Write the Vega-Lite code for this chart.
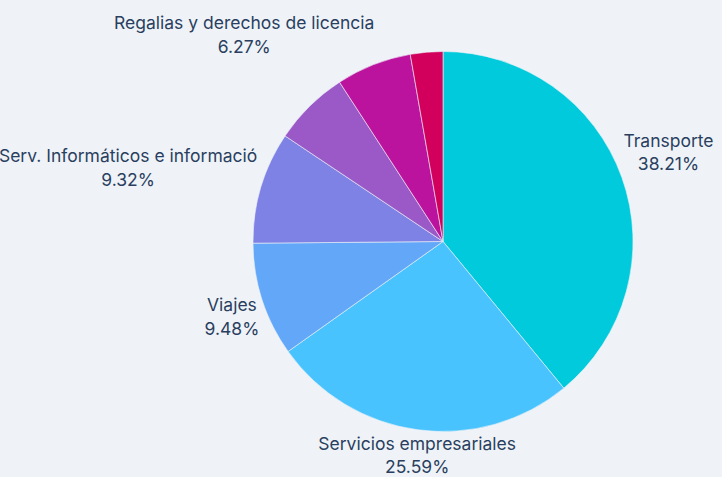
{
  "$schema": "https://vega.github.io/schema/vega-lite/v6.json",
  "width": 558,
  "height": 471,
  "autosize": {"type": "none"},
  "padding": {"left": 164, "top": 6, "right": 0, "bottom": 0},
  "background": "#eff3f8",
  "view": {"stroke": null},
  "config": {"font": "Inter"},
  "data": {
    "values": [
      {"name": "Transporte", "value": 38.21, "shown": true},
      {"name": "Servicios empresariales", "value": 25.59, "shown": true},
      {"name": "Viajes", "value": 9.48, "shown": true},
      {"name": "Serv. Informáticos e informació", "value": 9.32, "shown": true},
      {"name": "Otros servicios", "value": 6.32, "shown": false},
      {"name": "Regalias y derechos de licencia", "value": 6.27, "shown": true},
      {"name": "Seguros", "value": 2.7, "shown": false}
    ]
  },
  "layer": [
    {
      "mark": {"type": "arc", "outerRadius": 190, "stroke": "#eff3f8", "strokeWidth": 0.6},
      "encoding": {
        "theta": {"field": "value", "type": "quantitative", "stack": true},
        "order": {"field": "value", "type": "quantitative", "sort": "descending"},
        "color": {
          "field": "name",
          "type": "nominal",
          "legend": null,
          "scale": {
            "domain": ["Transporte", "Servicios empresariales", "Viajes", "Serv. Informáticos e informació", "Otros servicios", "Regalias y derechos de licencia", "Seguros"],
            "range": ["#00cadb", "#49c3fd", "#63a7f8", "#7f82e5", "#9b59c8", "#bb139e", "#d2005c"]
          }
        }
      }
    },
    {
      "transform": [
        {"joinaggregate": [{"op": "sum", "field": "value", "as": "total"}]},
        {"window": [{"op": "sum", "field": "value", "as": "cum"}], "sort": [{"field": "value", "order": "descending"}], "frame": [null, 0]},
        {"filter": "datum.shown"},
        {"calculate": "(datum.cum - datum.value / 2) / datum.total * 2 * PI", "as": "mid"},
        {"calculate": "sin(datum.mid)", "as": "sx"},
        {"calculate": "cos(datum.mid)", "as": "cu"},
        {"calculate": "length(datum.name) * 8.2", "as": "w"},
        {"calculate": "clamp((abs(datum.sx) - 0.15) / 0.2, 0, 1)", "as": "fx"},
        {"calculate": "clamp((abs(datum.cu) - 0.15) / 0.2, 0, 1)", "as": "fy"},
        {"calculate": "datum.sx * 196 + (datum.sx < 0 ? -1 : 1) * datum.fx * datum.w / 2", "as": "ox"},
        {"calculate": "-datum.cu * 196 + (datum.cu > 0 ? -1 : 1) * datum.fy * 22 - 13", "as": "oy"},
        {"calculate": "atan2(datum.ox, -datum.oy)", "as": "lt"},
        {"calculate": "sqrt(datum.ox * datum.ox + datum.oy * datum.oy)", "as": "lr"},
        {"calculate": "datum.name + '\\n' + format(datum.value, '.2f') + '%'", "as": "label"}
      ],
      "mark": {"type": "text", "fontSize": 17.5, "color": "#2a3f5f", "align": "center", "baseline": "middle", "lineBreak": "\n", "lineHeight": 23.5},
      "encoding": {
        "theta": {"field": "lt", "type": "quantitative", "scale": null, "stack": null},
        "radius": {"field": "lr", "type": "quantitative", "scale": null},
        "text": {"field": "label", "type": "nominal"}
      }
    }
  ],
  "resolve": {"scale": {"theta": "independent", "radius": "independent"}}
}
